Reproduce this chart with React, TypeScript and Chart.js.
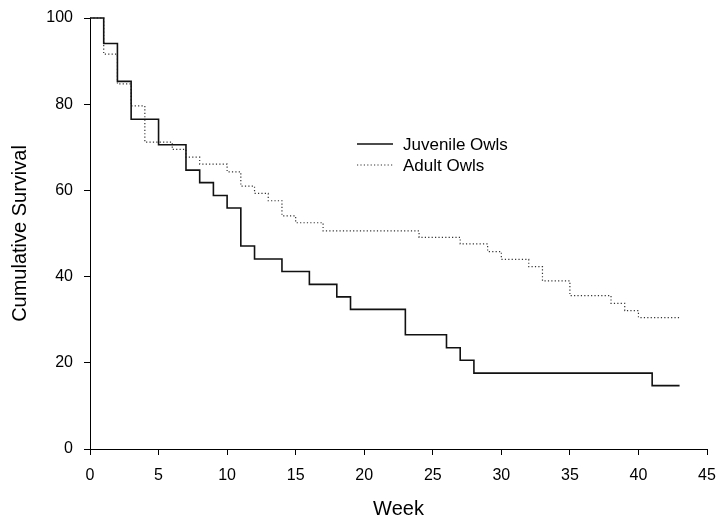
import React, { useEffect, useRef } from "react";
import { Chart, registerables } from "chart.js";

Chart.register(...registerables);

// Kaplan-Meier style step data (week of drop, survival after drop)
const juvenileWeeks = [0, 1, 2, 3, 5, 7, 8, 9, 10, 11, 12, 14, 16, 18, 19, 23, 26, 27, 28, 41, 43];
const juvenileSurvival = [100, 94.1, 85.3, 76.5, 70.6, 64.7, 61.8, 58.8, 55.9, 47.1, 44.1, 41.2, 38.2, 35.3, 32.4, 26.5, 23.5, 20.6, 17.6, 14.7, 14.7];

const adultWeeks = [0, 1, 2, 3, 4, 6, 7, 8, 10, 11, 12, 13, 14, 15, 17, 24, 27, 29, 30, 32, 33, 35, 38, 39, 40, 43];
const adultSurvival = [100, 91.6, 84.7, 79.6, 71.2, 69.5, 67.7, 66.1, 64.3, 61.0, 59.3, 57.6, 54.1, 52.5, 50.6, 49.1, 47.6, 45.8, 44.0, 42.3, 39.0, 35.6, 33.8, 32.1, 30.5, 30.5];

const seriesLabels = ["Juvenile Owls", "Adult Owls"];
const xTitle = "Week";
const yTitle = "Cumulative Survival";

const FONT = "'Liberation Sans', Arial, sans-serif";

const legendPlugin = {
  id: "insideLegend",
  afterDraw(chart: any) {
    const { ctx, chartArea } = chart;
    const x0 = chartArea.left + 267;
    const y0 = chartArea.top + 126;
    const rowH = 21;
    ctx.save();
    chart.data.datasets.forEach((ds: any, i: number) => {
      const y = y0 + i * rowH;
      ctx.beginPath();
      ctx.strokeStyle = ds.borderColor;
      ctx.lineWidth = ds.borderWidth;
      ctx.setLineDash(ds.borderDash || []);
      ctx.moveTo(x0, y);
      ctx.lineTo(x0 + 36, y);
      ctx.stroke();
      ctx.setLineDash([]);
      ctx.fillStyle = "#000";
      ctx.font = `17px ${FONT}`;
      ctx.textBaseline = "middle";
      ctx.textAlign = "left";
      ctx.fillText(ds.label, x0 + 46, y + 1);
    });
    ctx.restore();
  },
};

export default function App() {
  const canvasRef = useRef<HTMLCanvasElement | null>(null);

  useEffect(() => {
    if (!canvasRef.current) return;
    const chart = new Chart(canvasRef.current, {
      type: "line",
      data: {
        datasets: [
          {
            label: seriesLabels[0],
            data: juvenileWeeks.map((w, i) => ({ x: w, y: juvenileSurvival[i] })),
            stepped: "before",
            borderColor: "#111",
            borderWidth: 1.6,
            pointRadius: 0,
            fill: false,
            clip: 4,
          },
          {
            label: seriesLabels[1],
            data: adultWeeks.map((w, i) => ({ x: w, y: adultSurvival[i] })),
            stepped: "before",
            borderColor: "#333",
            borderWidth: 1.2,
            borderDash: [1.2, 2.2],
            pointRadius: 0,
            fill: false,
            clip: 4,
          },
        ],
      },
      options: {
        animation: false,
        responsive: false,
        devicePixelRatio: 1,
        layout: { padding: { top: 18, right: 11, left: 0, bottom: 0 } },
        plugins: {
          legend: { display: false },
          tooltip: { enabled: false },
        },
        scales: {
          x: {
            type: "linear",
            min: 0,
            max: 45,
            afterFit(scale: any) {
              scale.height = 70;
              scale.paddingLeft = 0;
              scale.paddingRight = 0;
            },
            ticks: {
              stepSize: 5,
              color: "#000",
              padding: 11,
              maxRotation: 0,
              font: { family: FONT, size: 16 },
            },
            grid: { drawOnChartArea: false, drawTicks: true, tickLength: 6, color: "#000" },
            border: { display: true, color: "#000", width: 1 },
            title: {
              display: true,
              text: xTitle,
              color: "#000",
              font: { family: FONT, size: 20, lineHeight: 1 },
              padding: { top: 0, bottom: 0 },
            },
          },
          y: {
            type: "linear",
            min: 0,
            max: 100,
            afterFit(scale: any) {
              scale.width = 90;
              scale.paddingTop = 0;
              scale.paddingBottom = 0;
            },
            ticks: {
              stepSize: 20,
              color: "#000",
              padding: 11,
              font: { family: FONT, size: 16 },
            },
            grid: { drawOnChartArea: false, drawTicks: true, tickLength: 6, color: "#000" },
            border: { display: true, color: "#000", width: 1 },
            title: {
              display: true,
              text: yTitle,
              color: "#000",
              font: { family: FONT, size: 20, lineHeight: 1 },
              padding: { top: 10, bottom: 0 },
            },
          },
        },
      },
      plugins: [legendPlugin],
    } as any);
    return () => chart.destroy();
  }, []);

  return (
    <div style={{ position: "fixed", left: 0, top: 0, width: 718, height: 519, background: "#fff" }}>
      <canvas ref={canvasRef} width={718} height={519} style={{ display: "block" }} />
    </div>
  );
}
